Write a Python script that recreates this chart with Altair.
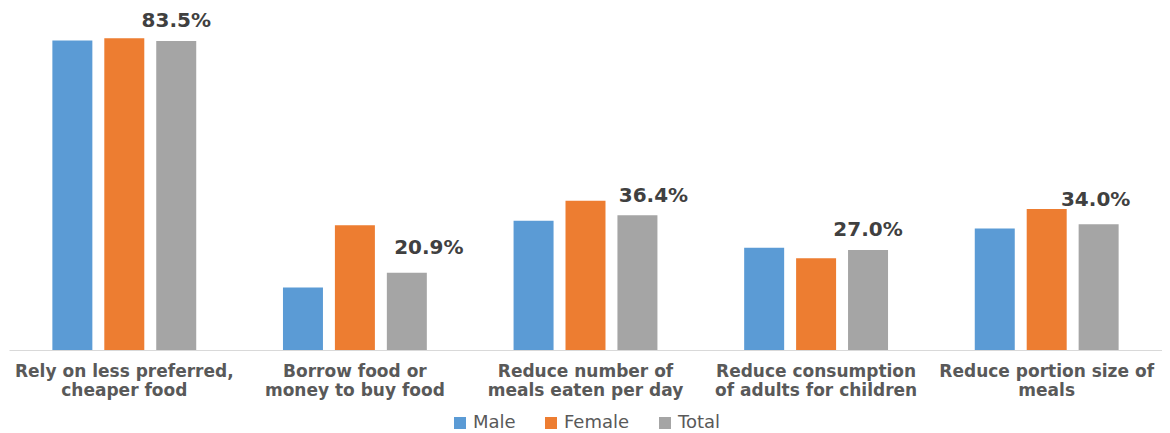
import altair as alt
import pandas as pd

categories = [
    "Rely on less preferred,|cheaper food",
    "Borrow food or|money to buy food",
    "Reduce number of|meals eaten per day",
    "Reduce consumption|of adults for children",
    "Reduce portion size of|meals",
]
series = ["Male", "Female", "Total"]
male = [83.6, 16.9, 34.9, 27.6, 32.8]
female = [84.2, 33.7, 40.3, 24.8, 38.1]
total = [83.5, 20.9, 36.4, 27.0, 34.0]
colors = ["#5B9BD5", "#ED7D31", "#A5A5A5"]

rows = []
for i, c in enumerate(categories):
    for s, vals in zip(series, [male, female, total]):
        rows.append({"category": c, "series": s, "value": vals[i]})
df = pd.DataFrame(rows)

FONT = "DejaVu Sans"

x_enc = alt.X(
    "category:N",
    sort=categories,
    scale=alt.Scale(paddingInner=0, paddingOuter=0),
    axis=alt.Axis(
        title=None,
        labelExpr="split(datum.label, '|')",
        labelAngle=0,
        ticks=False,
        tickSize=0,
        labelPadding=13,
        labelFont=FONT,
        labelFontWeight="bold",
        labelFontSize=17,
        labelColor="#595959",
        labelLineHeight=19,
        domainColor="#d9d9d9",
        domainWidth=1,
        grid=False,
        labelLimit=0,
    ),
)
xoff = alt.XOffset("series:N", sort=series,
                   scale=alt.Scale(paddingInner=0.23, paddingOuter=0.835))
y_enc = alt.Y("value:Q", scale=alt.Scale(domain=[0, 92.4], nice=False, zero=True), axis=None)

bars = alt.Chart(df).mark_bar().encode(
    x=x_enc,
    xOffset=xoff,
    y=y_enc,
    color=alt.Color(
        "series:N",
        sort=series,
        scale=alt.Scale(domain=series, range=colors),
        legend=alt.Legend(
            title=None,
            orient="none",
            legendX=442,
            legendY=406,
            direction="horizontal",
            columns=3,
            symbolType="square",
            symbolSize=144,
            symbolStrokeWidth=0,
            labelFont=FONT,
            labelFontSize=18,
            labelColor="#595959",
            columnPadding=26,
            labelOffset=4,
        ),
    ),
)

offsets = [(0, -14), (22, -19), (16, -13), (0, -14), (-3, -18)]
labels = []
for i, (dx, dy) in enumerate(offsets):
    lab = (
        alt.Chart(df)
        .transform_filter(
            (alt.datum.series == "Total") & (alt.datum.category == categories[i])
        )
        .transform_calculate(label="format(datum.value, '.1f') + '%'")
        .mark_text(dx=dx, dy=dy, baseline="alphabetic", align="center",
                   font=FONT, fontSize=20, fontWeight="bold", color="#404040")
        .encode(x=x_enc, xOffset=xoff, y=y_enc, text="label:N")
    )
    labels.append(lab)

chart = (
    alt.layer(bars, *labels)
    .properties(
        width=1153,
        height=342,
        padding={"left": 1, "top": 0, "right": 0, "bottom": 85},
        autosize=alt.AutoSizeParams(type="none"),
        background="white",
    )
    .configure_view(stroke=None)
)

chart.save("out.html", embed_options={"renderer": "svg", "actions": False})
